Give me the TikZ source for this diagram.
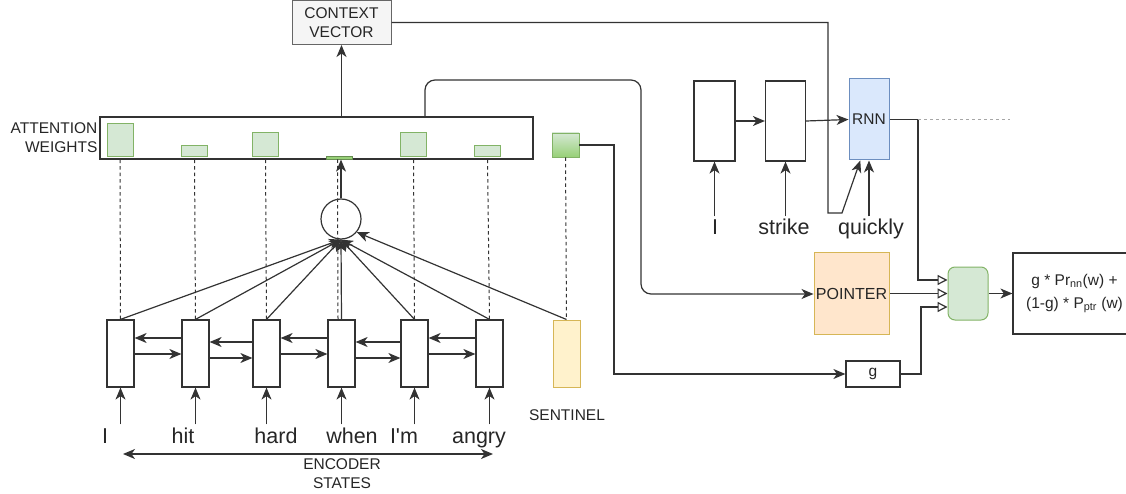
\documentclass[tikz,border=0pt]{standalone}
\usepackage{fontspec}
\setmainfont{Liberation Sans}
\usetikzlibrary{arrows.meta,calc}
\definecolor{ln}{HTML}{333333}
\definecolor{gfill}{HTML}{D5E8D4}
\definecolor{gdraw}{HTML}{82B366}
\definecolor{gdark}{HTML}{97D077}
\definecolor{bfill}{HTML}{DAE8FC}
\definecolor{bdraw}{HTML}{6C8EBF}
\definecolor{ofill}{HTML}{FFE6CC}
\definecolor{ydraw}{HTML}{D6B656}
\definecolor{yfill}{HTML}{FFF2CC}
\definecolor{cfill}{HTML}{F5F5F5}
\definecolor{cdraw}{HTML}{666666}
\newcommand{\sq}{\XeTeXglyph\XeTeXglyphindex "quotesingle"\relax}
\begin{document}
\begin{tikzpicture}[x=1pt,y=1pt,line width=1.2pt,
  >={Stealth[length=12pt,width=10pt,inset=3.5pt]},
  arr/.style={draw=ln,->},
  darr/.style={draw=ln,<->},
  tri/.style={draw=ln,-{Triangle[open,length=10pt,width=10pt,fill=white]}},
  dsh/.style={draw=ln,line width=1pt,dash pattern=on 3.5pt off 3pt},
  lbl/.style={font=\fontsize{15.5}{19}\selectfont,align=center,inner sep=0pt,text=black!85},
  word/.style={font=\fontsize{21.5}{24}\selectfont,inner sep=2.5pt,text height=15.5pt,text depth=4pt,anchor=base,text=black!85},
  cell/.style={draw=ln,fill=white,minimum width=27pt,minimum height=67pt,inner sep=0pt},
  dcell/.style={draw=ln,fill=white,minimum width=41pt,minimum height=80pt,inner sep=0pt},
  bar/.style={draw=gdraw,fill=gfill,line width=0.8pt,inner sep=0pt,minimum width=26pt,anchor=south}
]
\useasboundingbox (0,0) rectangle (1126,-494);

% context vector
\node[draw=cdraw,fill=cfill,line width=1pt,minimum width=99pt,minimum height=44pt,lbl] (ctx) at (341.5,-22.5) {CONTEXT\\VECTOR};

% attention bar
\node[draw=ln,fill=white,minimum width=433pt,minimum height=42pt,inner sep=0pt] (att) at (316.5,-138) {};
\node[lbl,anchor=east,align=right] (attl) at (98,-137.5) {ATTENTION\\WEIGHTS};
\node[bar,minimum height=33pt] (b1) at (120,-157) {};
\node[bar,minimum height=11pt] (b2) at (194.5,-157) {};
\node[bar,minimum height=24pt] (b3) at (265.5,-157) {};
\node[bar,minimum height=2.5pt,fill=gdark,draw=gdraw!80!black] (b4) at (339.5,-159.5) {};
\node[bar,minimum height=24pt] (b5) at (413.5,-157) {};
\node[bar,minimum height=11pt] (b6) at (487.5,-157) {};
\node[draw=gdraw,line width=0.8pt,top color=gfill,bottom color=gdark,minimum width=27pt,minimum height=24pt,inner sep=0pt] (sb) at (565.5,-145) {};

% encoder cells
\node[cell] (e1) at (120.5,-353.5) {};
\node[cell] (e2) at (195.5,-353.5) {};
\node[cell] (e3) at (266.5,-353.5) {};
\node[cell] (e4) at (341.5,-353.5) {};
\node[cell] (e5) at (414.5,-353.5) {};
\node[cell] (e6) at (489.5,-353.5) {};
\node[cell,fill=yfill,draw=ydraw,line width=1pt] (s) at (566.5,-353.5) {};
\node[lbl] (sl) at (567,-415) {SENTINEL};

% dashed lines
\draw[dsh] (b1.south |- att.south) -- (e1.north);
\draw[dsh] (b2.south |- att.south) -- (e2.north);
\draw[dsh] (b3.south |- att.south) -- (e3.north);
\draw[dsh] ($(b4.south)+(-2,0)$) -- ($(e4.north)+(-3.5,0)$);
\draw[dsh] (b5.south |- att.south) -- (e5.north);
\draw[dsh] (b6.south |- att.south) -- (e6.north);
\draw[dsh] (sb.south) -- (s.north);

% attention circle
\node[draw=ln,circle,minimum size=40pt,inner sep=0pt] (c) at (341,-219) {};
\foreach \i in {1,...,6} {\draw[arr] (e\i.north) -- (c.south);}
\draw[arr] (s.north) -- (c.-40);
\draw[arr] (c.north) -- (c.north |- att.south);
\draw[arr] (ctx.south |- att.north) -- (ctx.south);

% horizontal recurrences
\draw[arr] (e2.west |- 0,-338) -- (e1.east |- 0,-338);
\draw[arr] (e1.east |- 0,-354) -- (e2.west |- 0,-354);
\draw[arr] (e3.west |- 0,-342) -- (e2.east |- 0,-342);
\draw[arr] (e2.east |- 0,-358) -- (e3.west |- 0,-358);
\draw[arr] (e4.west |- 0,-338) -- (e3.east |- 0,-338);
\draw[arr] (e3.east |- 0,-354) -- (e4.west |- 0,-354);
\draw[arr] (e5.west |- 0,-342) -- (e4.east |- 0,-342);
\draw[arr] (e4.east |- 0,-358) -- (e5.west |- 0,-358);
\draw[arr] (e6.west |- 0,-338) -- (e5.east |- 0,-338);
\draw[arr] (e5.east |- 0,-354) -- (e6.west |- 0,-354);

% encoder words
\node[word] (w1) at (105,-443) {I};
\node[word] (w2) at (183,-443) {hit};
\node[word] (w3) at (276,-443) {hard};
\node[word] (w4) at (352,-443) {when};
\node[word] (w5) at (404,-443) {I\sq m};
\node[word] (w6) at (479,-443) {angry};
\foreach \i in {1,...,6} {\draw[arr] (e\i.south |- w\i.north) -- (e\i.south);}

% encoder states
\coordinate (esl) at (123,-454);
\coordinate (esr) at (493,-454);
\draw[darr] (esl) -- (esr);
\node[lbl] (esn) at (342,-473.5) {ENCODER\\STATES};

% decoder
\node[dcell] (d1) at (714.5,-121) {};
\node[dcell,minimum width=40pt] (d2) at (785.5,-121) {};
\node[draw=bdraw,fill=bfill,line width=1pt,minimum width=40pt,minimum height=81pt,inner sep=0pt,lbl] (rnn) at (869,-119.5) {RNN};
\draw[arr] (d1.east) -- (d2.west);
\draw[arr] (d2.east) -- (rnn.west);
\node[word] (v1) at (715,-235) {I};
\node[word] (v2) at (784,-235) {strike};
\node[word] (v3) at (871,-235) {quickly};
\draw[arr] (d1.south |- v1.north) -- (d1.south);
\draw[arr] (d2.south |- v2.north) -- (d2.south);
\draw[arr] (rnn.south |- v3.north) -- (rnn.south);

% context vector into RNN
\draw[arr] (ctx.east) -- (828,-22.5) -- (828,-213) -- (842,-213) -- (rnn.-102);

% pointer, gate, combiner, output
\node[draw=ydraw,fill=ofill,line width=1pt,minimum width=75pt,minimum height=81pt,inner sep=0pt,font=\fontsize{16}{19}\selectfont,text=black!85] (ptr) at (851.5,-293.5) {POINTER};
\node[draw=ln,fill=white,minimum width=54pt,minimum height=26pt,inner sep=0pt,lbl] (gbox) at (873,-374) {g};
\node[draw=gdraw,fill=gfill,line width=1pt,rounded corners=7pt,minimum width=40pt,minimum height=53pt,inner sep=0pt] (comb) at (968,-293.5) {};
\node[draw=ln,fill=white,minimum width=123pt,minimum height=81pt,inner sep=0pt,lbl,font=\fontsize{15.5}{23}\selectfont] (out) at (1074.5,-293.5) {g * Pr\textsubscript{nn}(w) +\\(1-g) * P\textsubscript{ptr} (w)};

\draw[arr,rounded corners=10pt] (att.north -| 425,0) -- (425,-80) -- (641,-80) -- (641,-294) -- (ptr.west |- 0,-294);
\draw[arr] (sb.east) -- (614,-145) -- (614,-374) -- (gbox.west);
\draw[tri] (rnn.east) -- (918,-119.5) -- (918,-280) -- (comb.west |- 0,-280);
\draw[draw=gray!70,line width=1pt,dash pattern=on 3pt off 3pt] (918,-119.5) -- (1010,-119.5);
\draw[tri] (ptr.east) -- (comb.west);
\draw[tri] (gbox.east) -- (921,-374) -- (921,-307) -- (comb.west |- 0,-307);
\draw[arr] (comb.east) -- (out.west);
\end{tikzpicture}
\end{document}
